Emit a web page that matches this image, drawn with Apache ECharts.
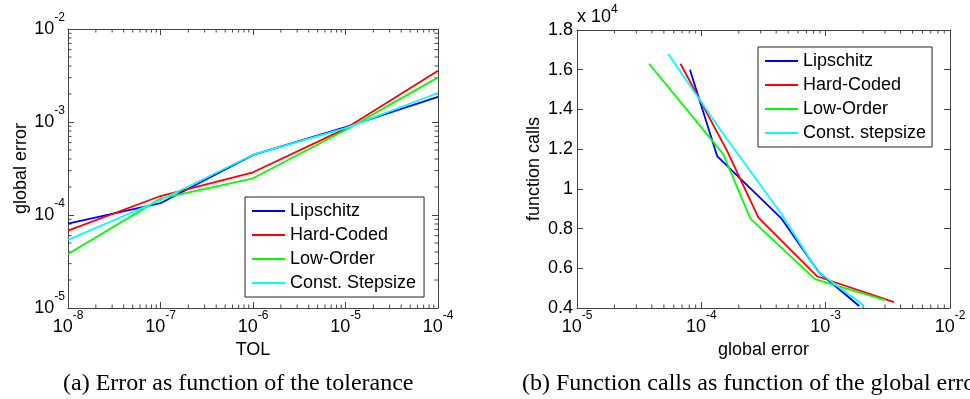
<!DOCTYPE html>
<html>
<head>
<meta charset="utf-8">
<script src="https://cdn.jsdelivr.net/npm/echarts@6/dist/echarts.min.js"></script>
<style>
html,body{margin:0;padding:0;background:#fff;}
#c{width:970px;height:399px;}
</style>
</head>
<body>
<div id="c"></div>
<script>
// ---------- data ----------
var seriesNames = ['Lipschitz', 'Hard-Coded', 'Low-Order', 'Const. Stepsize'];
var seriesNamesB = ['Lipschitz', 'Hard-Coded', 'Low-Order', 'Const. stepsize'];
var tol = [1e-8, 1e-7, 1e-6, 1e-5, 1e-4];
var errLipschitz = [8.1e-5, 1.34e-4, 4.42e-4, 8.8e-4, 1.86e-3];
var errHardCoded = [6.8e-5, 1.6e-4, 2.88e-4, 8.5e-4, 3.55e-3];
var errLowOrder  = [3.8e-5, 1.5e-4, 2.48e-4, 8.2e-4, 3.02e-3];
var errConst     = [5.4e-5, 1.45e-4, 4.45e-4, 8.6e-4, 2.05e-3];
var callsLipschitz = [16000, 11650, 8500, 5800, 4100];
var callsHardCoded = [16300, 11950, 8550, 5600, 4300];
var callsLowOrder  = [16300, 11750, 8500, 5450, 4400];
var callsConst     = [16800, 12900, 8700, 5850, 4100];
var xTicksA = [1e-8, 1e-7, 1e-6, 1e-5, 1e-4];
var yTicksA = [1e-5, 1e-4, 1e-3, 1e-2];
var xTicksB = [1e-5, 1e-4, 1e-3, 1e-2];
var yTicksB = [4000, 6000, 8000, 10000, 12000, 14000, 16000, 18000];

var colors = ['#0000ff', '#ff0000', '#00ff00', '#00ffff'];
var errs = [errLipschitz, errHardCoded, errLowOrder, errConst];
var calls = [callsLipschitz, callsHardCoded, callsLowOrder, callsConst];

var FONT = 'Liberation Sans, Arial, sans-serif';
var AX = '#444';

function powLabel(v) {
  var e = Math.round(Math.log10(v));
  return '{a|10}{b|' + e + '}';
}
var richPow = {
  a: {fontSize: 18, fontFamily: FONT, color: '#000'},
  b: {fontSize: 12, fontFamily: FONT, color: '#000', padding: [0, 0, 23, 0]}
};

function logAxis(pos, gi, min, max, showLabel, name, nameGap, margin) {
  return {
    type: 'log', logBase: 10, gridIndex: gi, position: pos, min: min, max: max,
    name: name || '', nameLocation: 'middle', nameGap: nameGap || 0,
    nameTextStyle: {fontSize: 18, fontFamily: FONT, color: '#000'},
    axisLine: {show: true, onZero: false, lineStyle: {color: AX, width: 1}},
    axisTick: {show: true, inside: true, length: 6, lineStyle: {color: AX}},
    axisLabel: {show: showLabel, margin: margin || 2, formatter: powLabel, rich: richPow},
    splitLine: {show: false}, minorTick: {show: false}
  };
}
function valAxis(pos, gi, showLabel, name, nameGap) {
  return {
    type: 'value', gridIndex: gi, position: pos, min: 4000, max: 18000, interval: 2000,
    name: name || '', nameLocation: 'middle', nameGap: nameGap || 0,
    nameTextStyle: {fontSize: 18, fontFamily: FONT, color: '#000'},
    axisLine: {show: true, onZero: false, lineStyle: {color: AX, width: 1}},
    axisTick: {show: true, inside: true, length: 6, lineStyle: {color: AX}},
    axisLabel: {show: showLabel, margin: 4, fontSize: 18, fontFamily: FONT, color: '#000',
      formatter: function (v) { return String(+(v / 1e4).toFixed(1)); }},
    splitLine: {show: false}
  };
}

var series = [];
for (var i = 0; i < 4; i++) {
  var dA = [], dB = [];
  for (var j = 0; j < tol.length; j++) {
    dA.push([tol[j], errs[i][j]]);
    dB.push([errs[i][j], calls[i][j]]);
  }
  series.push({type: 'line', name: seriesNames[i], xAxisIndex: 0, yAxisIndex: 0, data: dA,
    symbol: 'none', color: colors[i], lineStyle: {width: 1.8, color: colors[i]}, animation: false});
  series.push({type: 'line', name: seriesNamesB[i], xAxisIndex: 2, yAxisIndex: 2, data: dB,
    symbol: 'none', color: colors[i], lineStyle: {width: 1.8, color: colors[i]}, animation: false});
}

var legendBase = {
  orient: 'vertical', itemWidth: 33, itemHeight: 14, itemGap: 4,
  backgroundColor: '#fff', borderColor: '#222', borderWidth: 1, borderRadius: 0,
  textStyle: {fontSize: 18, fontFamily: FONT, color: '#000', lineHeight: 20},
  selectedMode: false, icon: 'path://M0,6 L33,6 L33,8 L0,8 Z'
};

var option = {
  animation: false,
  backgroundColor: '#fff',
  grid: [
    {left: 68, top: 29, width: 370, height: 279},
    {left: 577, top: 30, width: 373, height: 278}
  ],
  xAxis: [
    logAxis('bottom', 0, 1e-8, 1e-4, true, 'TOL', 31, 2),
    logAxis('top', 0, 1e-8, 1e-4, false),
    logAxis('bottom', 1, 1e-5, 1e-2, true, 'global error', 31, 2),
    logAxis('top', 1, 1e-5, 1e-2, false)
  ],
  yAxis: [
    logAxis('left', 0, 1e-5, 1e-2, true, 'global error', 38, 3),
    logAxis('right', 0, 1e-5, 1e-2, false),
    valAxis('left', 1, true, 'function calls', 34),
    valAxis('right', 1, false)
  ],
  legend: [
    Object.assign({}, legendBase, {left: 245, top: 197, padding: [4, 8, 4, 7], data: seriesNames}),
    Object.assign({}, legendBase, {left: 758, top: 47, padding: [4, 6, 4, 7], data: seriesNamesB})
  ],
  series: series
};

var chart = echarts.init(document.getElementById('c'), null, {renderer: 'canvas'});
chart.setOption(option);

// minor log ticks and extra annotations, positioned through the axes
var g = [];
function minorLog(xAxisIdx, yAxisIdx, isX, lo, hi, grid) {
  for (var d = lo; d < hi; d++) {
    for (var k = 2; k <= 9; k++) {
      var v = k * Math.pow(10, d);
      if (isX) {
        var px = chart.convertToPixel({xAxisIndex: xAxisIdx}, v);
        g.push({type: 'line', shape: {x1: px, y1: grid.b, x2: px, y2: grid.b - 3.5}, style: {stroke: AX, lineWidth: 1}, silent: true});
        g.push({type: 'line', shape: {x1: px, y1: grid.t, x2: px, y2: grid.t + 3.5}, style: {stroke: AX, lineWidth: 1}, silent: true});
      } else {
        var py = chart.convertToPixel({yAxisIndex: yAxisIdx}, v);
        g.push({type: 'line', shape: {x1: grid.l, y1: py, x2: grid.l + 3.5, y2: py}, style: {stroke: AX, lineWidth: 1}, silent: true});
        g.push({type: 'line', shape: {x1: grid.r, y1: py, x2: grid.r - 3.5, y2: py}, style: {stroke: AX, lineWidth: 1}, silent: true});
      }
    }
  }
}
var gA = {l: 68, r: 438, t: 29, b: 308};
var gB = {l: 577, r: 950, t: 30, b: 308};
minorLog(0, 0, true, -8, -4, gA);
minorLog(0, 0, false, -5, -2, gA);
minorLog(2, 2, true, -5, -2, gB);

g.push({type: 'text', left: 577, top: 4, silent: true,
  style: {text: '{x|x 10}{s|4}', rich: {
    x: {fontSize: 18, fontFamily: FONT, fill: '#000', color: '#000'},
    s: {fontSize: 12, fontFamily: FONT, fill: '#000', color: '#000', padding: [0, 0, 14, 0]}
  }}});
g.push({type: 'text', left: 63, top: 372, silent: true,
  style: {text: '(a) Error as function of the tolerance', font: '24px "Liberation Serif", "Times New Roman", serif', fill: '#000'}});
g.push({type: 'text', left: 522, top: 372, silent: true,
  style: {text: '(b) Function calls as function of the global error', font: '24px "Liberation Serif", "Times New Roman", serif', fill: '#000'}});

chart.setOption({graphic: g});
</script>
</body>
</html>
